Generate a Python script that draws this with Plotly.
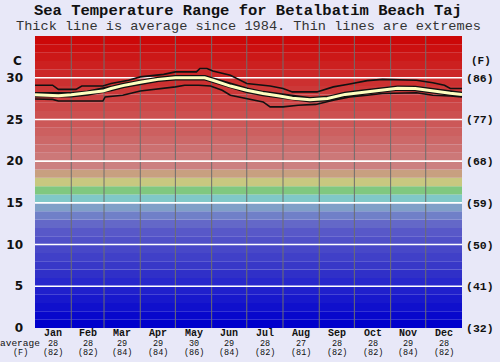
import plotly.graph_objects as go

# ---------------- data ----------------
months = ["Jan", "Feb", "Mar", "Apr", "May", "Jun", "Jul", "Aug", "Sep", "Oct", "Nov", "Dec"]
month_days = [31, 28, 31, 30, 31, 30, 31, 31, 30, 31, 30, 31]
avg_c_labels = ["28", "28", "29", "29", "30", "29", "28", "27", "28", "28", "29", "28"]
avg_f_labels = ["(82)", "(82)", "(84)", "(84)", "(86)", "(84)", "(82)", "(81)", "(82)", "(82)", "(84)", "(82)"]
c_ticks = [0, 5, 10, 15, 20, 25, 30]
f_tick_labels = ["(32)", "(41)", "(50)", "(59)", "(68)", "(77)", "(86)"]
grid_values = [5, 10, 15, 20, 25, 30]

avg_days = [0, 10, 20, 31, 45, 58, 65, 75, 90, 105, 120, 135, 145, 152, 167, 181, 195, 209, 220,
            235, 250, 265, 280, 295, 310, 325, 340, 355, 365]
avg_temp = [27.95, 27.9, 27.85, 27.95, 28.15, 28.4, 28.7, 29.05, 29.45, 29.8, 30.0, 30.05, 30.0, 29.7,
            29.0, 28.5, 28.1, 27.8, 27.55, 27.35, 27.5, 28.0, 28.25, 28.5, 28.75, 28.7, 28.4, 28.15, 28.0]

max_days = [0, 15, 20, 35, 40, 58, 65, 80, 90, 110, 120, 138, 141, 147, 152, 167, 181, 201, 212,
            220, 241, 255, 269, 284, 297, 326, 340, 350, 355, 365]
max_temp = [29.1, 29.1, 28.6, 28.6, 29.0, 29.0, 29.3, 29.7, 30.1, 30.4, 30.7, 30.7, 31.1, 31.1, 30.8,
            30.3, 29.3, 29.0, 28.7, 28.3, 28.3, 28.9, 29.25, 29.65, 29.8, 29.7, 29.4, 29.1, 28.7, 28.7]

min_days = [0, 15, 20, 58, 60, 75, 90, 110, 120, 128, 140, 150, 160, 167, 181, 195, 201, 212, 225,
            240, 255, 269, 284, 297, 326, 340, 355, 365]
min_temp = [27.45, 27.4, 27.2, 27.2, 27.7, 27.9, 28.4, 28.7, 28.9, 29.1, 29.1, 29.0, 28.5, 27.9,
            27.5, 27.1, 26.5, 26.5, 26.7, 26.8, 27.3, 27.7, 27.9, 28.1, 28.2, 27.9, 27.8, 27.7]

band_colors = [
    "#0000cc", "#0808cc", "#1010cc", "#1818cc", "#2020cc", "#2828cc", "#3030c8", "#3838c8",
    "#4040c8", "#4848c8", "#5050c8", "#5858c8", "#6468c8", "#7080c8", "#80a0c8", "#80c8c8",
    "#80c880", "#c8c880", "#c8a080", "#cc8080", "#cc7878", "#cc7070", "#cc6868", "#cc6060",
    "#cc5858", "#cc5050", "#cc4848", "#cc4040", "#cc3838", "#cc3030", "#cc2828", "#cc2020",
    "#cc1818", "#cc1010", "#cc0808",
]

# ---------------- derived positions ----------------
bounds = [0]
for d in month_days:
    bounds.append(bounds[-1] + d)
mid_month = [(bounds[i] + bounds[i + 1]) / 2 for i in range(12)]
year_len = bounds[-1]
t_top = len(band_colors)

MONO = "Liberation Mono, Courier New, monospace"
SANS = "DejaVu Sans, Verdana, sans-serif"

fig = go.Figure()

# average line: black outline then pale yellow
fig.add_trace(go.Scatter(x=avg_days, y=avg_temp, mode="lines",
                         line=dict(color="#111111", width=5.5), hoverinfo="skip", showlegend=False))
fig.add_trace(go.Scatter(x=max_days, y=max_temp, mode="lines",
                         line=dict(color="#111111", width=1.6), hoverinfo="skip", showlegend=False))
fig.add_trace(go.Scatter(x=min_days, y=min_temp, mode="lines",
                         line=dict(color="#111111", width=1.6), hoverinfo="skip", showlegend=False))
fig.add_trace(go.Scatter(x=avg_days, y=avg_temp, mode="lines",
                         line=dict(color="#ffffc0", width=3), hoverinfo="skip", showlegend=False))
# invisible trace to carry the right-hand (F) axis
fig.add_trace(go.Scatter(x=avg_days, y=avg_temp, mode="lines", yaxis="y2",
                         line=dict(color="rgba(0,0,0,0)", width=0), hoverinfo="skip", showlegend=False))

shapes = []
for t, col in enumerate(band_colors):
    shapes.append(dict(type="rect", xref="paper", yref="y", x0=0, x1=1, y0=t, y1=t + 1,
                       fillcolor=col, line=dict(width=0), layer="below"))
for b in bounds[1:-1]:
    shapes.append(dict(type="line", xref="x", yref="paper", x0=b, x1=b, y0=0, y1=1,
                       line=dict(color="#6e6e6e", width=1), layer="below"))
for g in grid_values:
    shapes.append(dict(type="line", xref="paper", yref="y", x0=0, x1=1, y0=g, y1=g,
                       line=dict(color="#ffffff", width=1.6), layer="below"))

annotations = [
    dict(text="<b>Sea Temperature Range for Betalbatim Beach Taj</b>", xref="paper", yref="paper",
         x=0.499, y=1.085, xanchor="center", yanchor="middle", showarrow=False,
         font=dict(family=MONO, size=15.5, color="#111111")),
    dict(text="Thick line is average since 1984. Thin lines are extremes", xref="paper", yref="paper",
         x=0.499, y=1.032, xanchor="center", yanchor="middle", showarrow=False,
         font=dict(family=MONO, size=13.6, color="#333333")),
    dict(text="<b>C</b>", xref="paper", yref="y", x=0, xshift=-18, y=32, xanchor="center",
         yanchor="middle", showarrow=False, font=dict(family=SANS, size=12, color="#111111")),
    dict(text="<b>(F)</b>", xref="paper", yref="y", x=1, xshift=19, y=32, xanchor="center",
         yanchor="middle", showarrow=False, font=dict(family=MONO, size=11, color="#111111")),
    dict(text="average", xref="paper", yref="paper", x=0, xshift=-15, y=0, yshift=-15.5,
         xanchor="center", yanchor="middle", showarrow=False,
         font=dict(family=MONO, size=9.5, color="#111111")),
    dict(text="(F)", xref="paper", yref="paper", x=0, xshift=-15, y=0, yshift=-25,
         xanchor="center", yanchor="middle", showarrow=False,
         font=dict(family=MONO, size=8.5, color="#111111")),
]
for i in range(12):
    annotations.append(dict(text="<b>" + months[i] + "</b>", xref="x", yref="paper", x=mid_month[i],
                            y=0, yshift=-5.5, xanchor="center", yanchor="middle", showarrow=False,
                            font=dict(family=MONO, size=10, color="#111111")))
    annotations.append(dict(text=avg_c_labels[i], xref="x", yref="paper", x=mid_month[i], y=0,
                            yshift=-15.5, xanchor="center", yanchor="middle", showarrow=False,
                            font=dict(family=MONO, size=8.5, color="#111111")))
    annotations.append(dict(text=avg_f_labels[i], xref="x", yref="paper", x=mid_month[i], y=0,
                            yshift=-25, xanchor="center", yanchor="middle", showarrow=False,
                            font=dict(family=MONO, size=8.5, color="#111111")))

fig.update_layout(
    width=500, height=362,
    margin=dict(l=35, r=38, t=36, b=34, pad=0),
    paper_bgcolor="#e8e8f8",
    plot_bgcolor="#e8e8f8",
    shapes=shapes,
    annotations=annotations,
    xaxis=dict(range=[0, year_len], showticklabels=False, showgrid=False, zeroline=False,
               showline=False, ticks="", automargin=False, fixedrange=True),
    yaxis=dict(range=[0, t_top], tickmode="array", tickvals=c_ticks,
               ticktext=["<b>" + str(v) + "</b>" for v in c_ticks], showgrid=False, zeroline=False,
               showline=False, ticks="", ticklabelstandoff=11,
               tickfont=dict(family=SANS, size=12, color="#111111"), automargin=False),
    yaxis2=dict(range=[0, t_top], overlaying="y", side="right", tickmode="array", tickvals=c_ticks,
                ticktext=["<b>" + s + "</b>" for s in f_tick_labels], showgrid=False, zeroline=False,
                showline=False, ticks="", ticklabelstandoff=3,
                tickfont=dict(family=MONO, size=11.5, color="#111111"), automargin=False),
    showlegend=False,
)

fig.write_html("out.html", config={"displayModeBar": False},
               post_script="document.body.style.margin='0px';")
